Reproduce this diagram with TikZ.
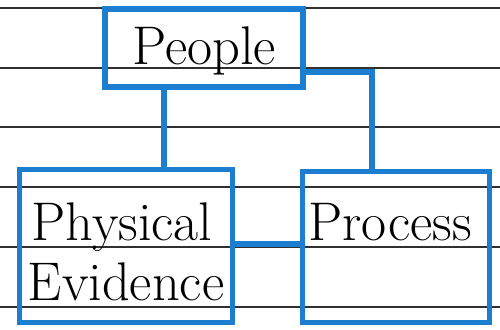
\documentclass[tikz,border=0pt]{standalone}
\usetikzlibrary{calc}
\definecolor{pen}{HTML}{1C7ED0}
\definecolor{rule}{HTML}{303030}
\tikzset{
  box/.style={draw=pen, line width=3.4pt, rectangle, inner sep=0pt},
  conn/.style={draw=pen, line width=3.4pt},
  ruling/.style={draw=rule, line width=0.8pt},
  hand/.style={font=\fontsize{31}{34}\selectfont, inner sep=0pt, text=black}
}
\begin{document}
\begin{tikzpicture}[x=0.02cm,y=-0.02cm]
\useasboundingbox (0,0) rectangle (500,329);
\fill[white] (0,0) rectangle (500,329);
% ruled paper
\foreach \yy in {8,68,127,187,247,307}
  \draw[ruling] (0,\yy) -- (500,\yy);
% boxes
\node[box, minimum width=198*0.02cm, minimum height=78*0.02cm] (people) at (204,48) {};
\node[box, minimum width=213*0.02cm, minimum height=153*0.02cm] (phys) at (126,246) {};
\node[box, minimum width=187*0.02cm, minimum height=151*0.02cm] (proc) at (396,247) {};
% texts
\node[hand, anchor=base] (tpeople) at (204,64) {People};
\node[hand, anchor=base] (tphys) at (122,240) {Physical};
\node[hand, anchor=base] (tevid) at (126,300) {Evidence};
\node[hand, anchor=base] (tproc) at (390,240) {Process};
% connectors
\draw[conn] (people.south -| phys.north) ++(38,0) coordinate (pa) -- (pa |- phys.north);
\coordinate (pr) at ($(people.north east)!0.78!(people.south east)$);
\coordinate (pv) at ([xshift=-24*0.02cm]proc.north);
\draw[conn] (people.east |- pr) -- (pr -| pv) -- (pv);
\coordinate (ph) at ($(phys.north east)!0.49!(phys.south east)$);
\draw[conn] (ph) -- (ph -| proc.west);
\end{tikzpicture}
\end{document}
